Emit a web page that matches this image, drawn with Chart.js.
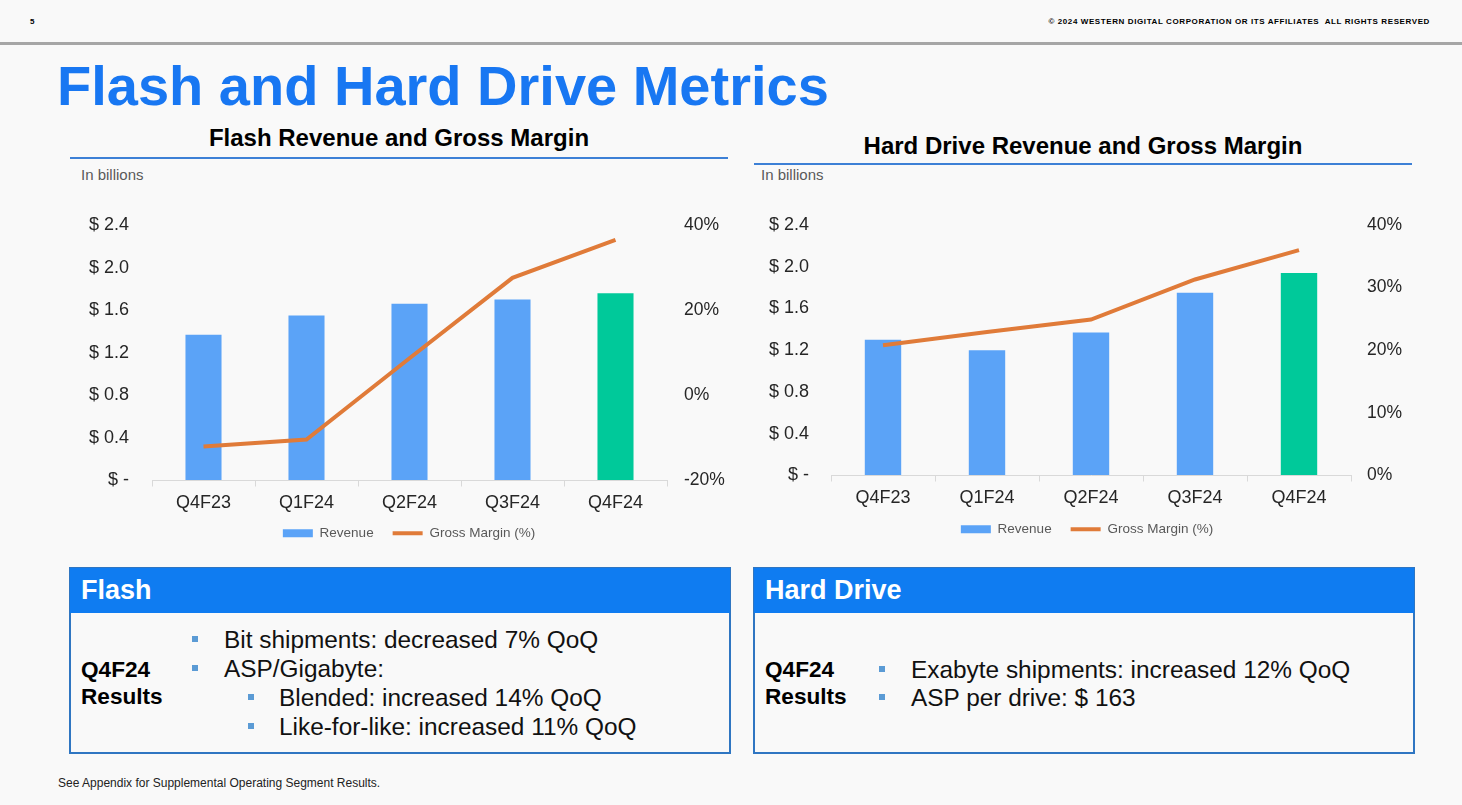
<!DOCTYPE html>
<html>
<head>
<meta charset="utf-8">
<script src="https://cdn.jsdelivr.net/npm/chart.js@4.4.1/dist/chart.umd.min.js"></script>
<style>
  html, body { margin:0; padding:0; }
  body { width:1462px; height:805px; background:#f9f9f9; position:relative; overflow:hidden;
         font-family:"Liberation Sans", Arial, sans-serif; color:#000; }
  .abs { position:absolute; white-space:nowrap; }
  .pg { left:30px; top:17px; font-size:8px; font-weight:bold; line-height:10px; }
  .copy { right:32px; top:17px; font-size:8px; font-weight:bold; line-height:10px; letter-spacing:0.6px; }
  .rule { left:0; top:42px; width:1462px; height:3px; background:#a6a6a6; }
  .title { left:57px; top:58px; font-size:56px; font-weight:bold; color:#1877f2; line-height:56px; }
  .ctitle { font-size:24px; font-weight:bold; line-height:28px; }
  .uline { height:2px; background:#3d80d6; }
  .inb { font-size:15px; color:#595959; line-height:18px; }
  .box { border:2px solid #2f76c2; box-sizing:border-box; }
  .bhead { background:#0f7cf1; color:#fff; font-size:27px; font-weight:bold; line-height:45px; padding-left:11px; box-sizing:border-box; }
  .lbl { font-size:22.6px; font-weight:bold; line-height:28px; }
  .txt { font-size:24.4px; line-height:28px; color:#111; }
  .bul { width:6px; height:6px; background:#5b9bd5; }
  .foot { left:58px; top:775px; font-size:12px; line-height:16px; color:#222; }
  canvas { position:absolute; }
</style>
</head>
<body>
<div class="abs pg">5</div>
<div class="abs copy">© 2024 WESTERN DIGITAL CORPORATION OR ITS AFFILIATES&nbsp; ALL RIGHTS RESERVED</div>
<div class="abs rule"></div>
<div class="abs title">Flash and Hard Drive Metrics</div>

<div class="abs ctitle" style="left:70px; width:658px; text-align:center; top:124px;">Flash Revenue and Gross Margin</div>
<div class="abs uline" style="left:70px; width:658px; top:157px;"></div>
<div class="abs ctitle" style="left:754px; width:658px; text-align:center; top:132px;">Hard Drive Revenue and Gross Margin</div>
<div class="abs uline" style="left:754px; width:658px; top:163px;"></div>
<div class="abs inb" style="left:81px; top:166px;">In billions</div>
<div class="abs inb" style="left:761px; top:166px;">In billions</div>

<div style="position:absolute; left:70px; top:200px; width:678px; height:350px;"><canvas id="c1"></canvas></div>
<div style="position:absolute; left:750px; top:200px; width:674px; height:350px;"><canvas id="c2"></canvas></div>

<div class="abs box" style="left:69px; top:567px; width:662px; height:187px;"></div>
<div class="abs bhead" style="left:70px; top:568px; width:660px; height:45px;">Flash</div>
<div class="abs lbl" style="left:81px; top:656px;">Q4F24</div>
<div class="abs lbl" style="left:81px; top:683px;">Results</div>
<div class="abs bul" style="left:192px; top:636px;"></div>
<div class="abs txt" style="left:224px; top:626px;">Bit shipments: decreased 7% QoQ</div>
<div class="abs bul" style="left:192px; top:665px;"></div>
<div class="abs txt" style="left:224px; top:655px;">ASP/Gigabyte:</div>
<div class="abs bul" style="left:248px; top:694px;"></div>
<div class="abs txt" style="left:279px; top:684px;">Blended: increased 14% QoQ</div>
<div class="abs bul" style="left:248px; top:723px;"></div>
<div class="abs txt" style="left:279px; top:713px;">Like-for-like: increased 11% QoQ</div>

<div class="abs box" style="left:753px; top:567px; width:662px; height:187px;"></div>
<div class="abs bhead" style="left:754px; top:568px; width:660px; height:45px;">Hard Drive</div>
<div class="abs lbl" style="left:765px; top:656px;">Q4F24</div>
<div class="abs lbl" style="left:765px; top:683px;">Results</div>
<div class="abs bul" style="left:879px; top:666px;"></div>
<div class="abs txt" style="left:911px; top:656px;">Exabyte shipments: increased 12% QoQ</div>
<div class="abs bul" style="left:879px; top:694px;"></div>
<div class="abs txt" style="left:911px; top:684px;">ASP per drive: $ 163</div>

<div class="abs foot">See Appendix for Supplemental Operating Segment Results.</div>

<script>
// ---- data ----
const quarters = ['Q4F23', 'Q1F24', 'Q2F24', 'Q3F24', 'Q4F24'];
const flashRevenue = [1.37, 1.55, 1.66, 1.70, 1.76];
const flashGrossMargin = [-12.0, -10.4, 8.7, 27.6, 36.5];
const hddRevenue = [1.30, 1.20, 1.37, 1.75, 1.94];
const hddGrossMargin = [20.8, 22.9, 24.9, 31.3, 36.0];
const revenueTickLabels = ['$ -', '$ 0.4', '$ 0.8', '$ 1.2', '$ 1.6', '$ 2.0', '$ 2.4'];
const flashMarginTickLabels = ['-20%', '0%', '20%', '40%'];
const hddMarginTickLabels = ['0%', '10%', '20%', '30%', '40%'];
const legendLabels = ['Revenue', 'Gross Margin (%)'];

// ---- styles ----
const BLUE = '#5ba3f7', GREEN = '#00c99a', ORANGE = '#e07b39';
const FONT = '"Liberation Sans", Arial, sans-serif';
const barColors = quarters.map((q, i) => i === quarters.length - 1 ? GREEN : BLUE);

function makeChart(id, rev, gm, gmMin, gmMax, gmStep, gmLabels, cfg) {
  return new Chart(document.getElementById(id), {
    data: {
      labels: quarters,
      datasets: [
        { type: 'line', label: legendLabels[1], data: gm, yAxisID: 'y1', borderColor: ORANGE,
          backgroundColor: ORANGE, borderWidth: 4, pointRadius: 0, tension: 0, order: 0 },
        { type: 'bar', label: legendLabels[0], data: rev, yAxisID: 'y', backgroundColor: barColors,
          categoryPercentage: 1, barPercentage: 0.35, order: 1 }
      ]
    },
    options: {
      responsive: true, maintainAspectRatio: false, animation: false,
      layout: { padding: { top: 25, bottom: cfg.padBottom, left: 0, right: 0 } },
      plugins: {
        tooltip: { enabled: false },
        legend: {
          position: 'bottom',
          labels: {
            font: { family: FONT, size: 13.5 }, color: '#595959',
            usePointStyle: true, pointStyleWidth: 30, boxWidth: 30, boxHeight: 8, padding: 19,
            generateLabels: () => [
              { text: legendLabels[0], pointStyle: 'rect', fillStyle: BLUE, strokeStyle: BLUE, lineWidth: 0, fontColor: '#595959', datasetIndex: 1 },
              { text: legendLabels[1], pointStyle: 'line', fillStyle: ORANGE, strokeStyle: ORANGE, lineWidth: 4, fontColor: '#595959', datasetIndex: 0 }
            ]
          }
        }
      },
      scales: {
        x: {
          offset: true,
          grid: { display: true, offset: true, drawOnChartArea: false, drawTicks: true, tickLength: 6, color: '#d9d9d9' },
          border: { display: true, color: '#d9d9d9', width: 1 },
          ticks: { font: { family: FONT, size: 18 }, color: '#262626', padding: 6, maxRotation: 0 },
          afterFit: s => { s.height = cfg.xH; s._computeLabelArea = () => undefined; }
        },
        y: {
          position: 'left', min: 0, max: 2.4,
          grid: { display: true, drawOnChartArea: false, drawTicks: true, tickLength: cfg.leftPad, color: 'rgba(0,0,0,0)' },
          border: { display: false },
          ticks: { stepSize: 0.4, font: { family: FONT, size: 18 }, color: '#262626', padding: 0,
                   callback: (v, i) => revenueTickLabels[i] },
          afterFit: s => { s.width = cfg.leftW; }
        },
        y1: {
          position: 'right', min: gmMin, max: gmMax,
          grid: { display: true, drawOnChartArea: false, drawTicks: true, tickLength: cfg.rightPad, color: 'rgba(0,0,0,0)' },
          border: { display: false },
          ticks: { stepSize: gmStep, font: { family: FONT, size: 17.5 }, color: '#262626', padding: 0,
                   callback: (v, i) => gmLabels[i] },
          afterFit: s => { s.width = cfg.rightW; }
        }
      }
    }
  });
}

makeChart('c1', flashRevenue, flashGrossMargin, -20, 40, 20, flashMarginTickLabels,
  { leftPad: 23, rightPad: 17, leftW: 82, rightW: 81, xH: 27, padBottom: 0 });
makeChart('c2', hddRevenue, hddGrossMargin, 0, 40, 10, hddMarginTickLabels,
  { leftPad: 22, rightPad: 16, leftW: 81, rightW: 73, xH: 28, padBottom: 4 });
</script>
</body>
</html>
